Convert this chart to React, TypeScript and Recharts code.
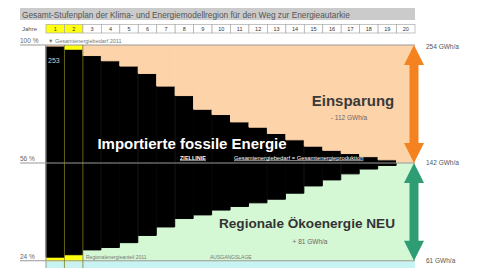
import React from 'react';
import { BarChart, Bar, XAxis, YAxis, Cell, ReferenceLine, ReferenceArea } from 'recharts';

// Jahre des Stufenplans
const YEARS = ['1', '2', '3', '4', '5', '6', '7', '8', '9', '10', '11', '12', '13', '14', '15', '16', '17', '18', '19', '20'];
// Ausgangsjahre (gelb markiert)
const START_YEARS = ['1', '2'];
// Jahr mit gelbem Anteil oben
const TOP_YELLOW_YEARS = ['2'];
// Gesamtenergiebedarf je Jahr in GWh/a (Oberkante schwarz)
const DEMAND = [253, 250, 244, 239, 234, 227, 215, 206, 193, 188, 181, 176, 170, 164, 158, 154, 151, 148, 145, 142];
// regionale Ökoenergie je Jahr in GWh/a (Unterkante schwarz)
const REGIONAL = [64, 66, 70, 72, 76, 82, 89, 96, 99, 103, 106, 109, 112, 117, 123, 128, 133, 137, 140, 142];

const START_DEMAND = 254;   // 100 %
const TARGET = 142;         // 56 %, Ziellinie
const START_REGIONAL = 61;  // 24 %
const AXIS_MIN = 55;

const W = 481;
const H = 268;
const LEFT = 46;
const RIGHT = 66;
const BAND = (W - LEFT - RIGHT) / YEARS.length;

const PEACH = '#fdd3a9';
const LIGHT_GREEN = '#d4f7d4';
const YELLOW = '#ffff10';
const OLIVE = '#7d7d1c';
const FONT = '"Liberation Sans", Arial, sans-serif';

const upperData = YEARS.map((year, i) => ({
  year,
  base: TARGET,
  fossil: DEMAND[i] - TARGET,
  savings: START_DEMAND - DEMAND[i],
}));

const lowerData = YEARS.map((year, i) => ({
  year,
  base: START_REGIONAL,
  regional: REGIONAL[i] - START_REGIONAL,
  fossil: TARGET - REGIONAL[i],
}));

const PctTick = (props: any) => {
  const { y, payload } = props;
  const pct = Math.round((payload.value / START_DEMAND) * 100);
  return (
    <g>
      <text x={20} y={y - 2} fontSize={6.5} fill="#666" fontFamily={FONT}>{pct} %</text>
      <line x1={20} x2={LEFT} y1={y} y2={y} stroke="#999" strokeWidth={1} />
    </g>
  );
};

const YearCell = (props: any) => {
  const { x, payload } = props;
  const start = START_YEARS.includes(payload.value);
  return (
    <g>
      <rect x={x - BAND / 2} y={24.5} width={BAND} height={8.5} fill={start ? YELLOW : '#fff'} stroke="#aaa" strokeWidth={0.7} />
      <text x={x} y={31} fontSize={5.5} textAnchor="middle" fill="#333" fontFamily={FONT}>{payload.value}</text>
    </g>
  );
};

const arrowShape = (color: string) => (props: any) => {
  const { x, y, width, height } = props;
  const cx = x + width - 1;
  const top = y;
  const bottom = y + height;
  const hw = 10;
  const sw = 4.5;
  const hl = 20;
  const pts = [
    [cx, top], [cx + hw, top + hl], [cx + sw, top + hl], [cx + sw, bottom - hl], [cx + hw, bottom - hl],
    [cx, bottom], [cx - hw, bottom - hl], [cx - sw, bottom - hl], [cx - sw, top + hl], [cx - hw, top + hl],
  ];
  return <polygon points={pts.map(p => p.join(',')).join(' ')} fill={color} />;
};

const rightLabel = (value: string, dy = 0) => ({
  value,
  position: 'right' as const,
  offset: 11,
  fontSize: 6.5,
  fill: '#555',
  dy,
});

export default function App() {
  return (
    <div style={{ position: 'absolute', left: 0, top: 0, width: W, height: H, background: '#fff', fontFamily: FONT }}>
      {/* untere Hälfte: regionale Ökoenergie */}
      <div style={{ position: 'absolute', left: 0, top: 0 }}>
        <BarChart width={W} height={H} data={lowerData} margin={{ top: 163, right: RIGHT, bottom: 0, left: 0 }} barCategoryGap={0} barGap={0}>
          <XAxis dataKey="year" hide />
          <YAxis width={LEFT} domain={[AXIS_MIN, TARGET]} ticks={[START_REGIONAL]} interval={0} allowDataOverflow tickLine={false} axisLine={{ stroke: '#999' }} tick={<PctTick />} />
          <ReferenceArea y1={AXIS_MIN} y2={START_REGIONAL} fill="#c9f3f3" fillOpacity={1} stroke="none" ifOverflow="visible" />
          <Bar dataKey="base" stackId="s" fill="none" isAnimationActive={false} />
          <Bar dataKey="regional" stackId="s" isAnimationActive={false}>
            {lowerData.map(d => {
              const c = START_YEARS.includes(d.year) ? YELLOW : LIGHT_GREEN;
              return <Cell key={d.year} fill={c} stroke={c} />;
            })}
          </Bar>
          <Bar dataKey="fossil" stackId="s" fill="#000" stroke="#000" isAnimationActive={false} />
          <ReferenceLine y={START_REGIONAL} stroke="#999" zIndex={600} label={rightLabel(`${START_REGIONAL} GWh/a`)} />
          <ReferenceLine x="2" position="start" stroke={OLIVE} strokeWidth={0.8} zIndex={600} />
          <ReferenceLine x="3" position="start" stroke={OLIVE} strokeWidth={0.8} zIndex={600} />
          <ReferenceArea x1="20" x2="20" y1={START_REGIONAL} y2={TARGET} ifOverflow="visible" zIndex={1500} shape={arrowShape('#2f9d74')} />
        </BarChart>
      </div>

      {/* obere Hälfte: Einsparung */}
      <div style={{ position: 'absolute', left: 0, top: 0 }}>
        <BarChart width={W} height={H} data={upperData} margin={{ top: 24, right: RIGHT, bottom: 105, left: 0 }} barCategoryGap={0} barGap={0}>
          <XAxis dataKey="year" orientation="top" height={21} interval={0} axisLine={false} tickLine={false} tick={<YearCell />} />
          <YAxis width={LEFT} domain={[TARGET, START_DEMAND]} ticks={[TARGET, START_DEMAND]} interval={0} allowDataOverflow tickLine={false} axisLine={{ stroke: '#999' }} tick={<PctTick />} />
          <Bar dataKey="base" stackId="s" fill="none" isAnimationActive={false} />
          <Bar dataKey="fossil" stackId="s" fill="#000" stroke="#000" isAnimationActive={false} />
          <Bar dataKey="savings" stackId="s" isAnimationActive={false}>
            {upperData.map(d => {
              const c = TOP_YELLOW_YEARS.includes(d.year) ? YELLOW : PEACH;
              return <Cell key={d.year} fill={c} stroke={c} />;
            })}
          </Bar>
          <ReferenceLine y={START_DEMAND} stroke="#999" zIndex={600} label={rightLabel(`${START_DEMAND} GWh/a`, 2)} />
          <ReferenceLine y={TARGET} stroke="#999" zIndex={600} label={rightLabel(`${TARGET} GWh/a`)} />
          <ReferenceLine x="2" position="start" stroke={OLIVE} strokeWidth={0.8} zIndex={600} />
          <ReferenceLine x="3" position="start" stroke={OLIVE} strokeWidth={0.8} zIndex={600} />
          <ReferenceArea x1="20" x2="20" y1={TARGET} y2={START_DEMAND} ifOverflow="visible" zIndex={1500} shape={arrowShape('#f58220')} />
        </BarChart>
      </div>

      {/* Beschriftungen */}
      <svg width={W} height={H} style={{ position: 'absolute', left: 0, top: 0, pointerEvents: 'none' }} fontFamily={FONT}>
        <rect x={20} y={8} width={395} height={12} fill="#cbcbcb" />
        <text x={22} y={17.5} fontSize={8.3} fill="#555">Gesamt-Stufenplan der Klima- und Energiemodellregion für den Weg zur Energieautarkie</text>
        <text x={22} y={31} fontSize={6} fill="#555">Jahre</text>
        <text x={48} y={42.5} fontSize={5.5} fill="#777">▼ Gesamtenergiebedarf 2011</text>
        <text x={48} y={63} fontSize={7} fill="#ccc">{DEMAND[0]}</text>
        <text x={353} y={106} fontSize={15} fontWeight="bold" fill="#3a3a3a" textAnchor="middle">Einsparung</text>
        <text x={349} y={120} fontSize={6.5} fill="#666" textAnchor="middle">- {START_DEMAND - TARGET} GWh/a</text>
        <text x={192} y={149} fontSize={15} fontWeight="bold" fill="#fff" textAnchor="middle">Importierte fossile Energie</text>
        <text x={180} y={159.5} fontSize={5.5} fontWeight="bold" fill="#fff" textDecoration="underline">ZIELLINIE</text>
        <text x={234} y={159.5} fontSize={5.8} fill="#fff" textDecoration="underline">Gesamtenergiebedarf = Gesamtenergieproduktion</text>
        <text x={307} y={228} fontSize={13.6} fontWeight="bold" fill="#333" textAnchor="middle">Regionale Ökoenergie NEU</text>
        <text x={310} y={244} fontSize={6.5} fill="#666" textAnchor="middle">+ {TARGET - START_REGIONAL} GWh/a</text>
        <text x={86} y={259} fontSize={5} fill="#777">Regionalenergieanteil 2011</text>
        <text x={210} y={259} fontSize={5} fill="#777">AUSGANGSLAGE</text>
      </svg>
    </div>
  );
}
